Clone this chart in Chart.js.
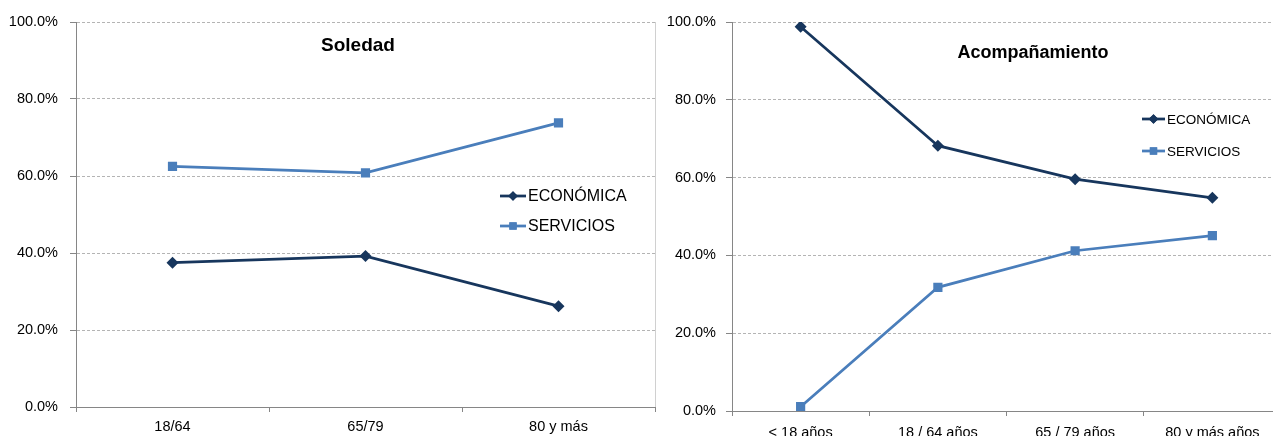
<!DOCTYPE html>
<html lang="es">
<head>
<meta charset="utf-8">
<title>Soledad y Acompañamiento</title>
<script src="https://cdn.jsdelivr.net/npm/chart.js@4.4.1/dist/chart.umd.min.js"></script>
<style>
  html, body { margin: 0; padding: 0; background: #ffffff; overflow: hidden; }
  body { width: 1273px; height: 436px; position: relative; }
  .panel { position: absolute; top: 0; height: 436px; }
  #soledadBox { left: 0; width: 670px; }
  #acompBox { left: 660px; width: 640px; }
</style>
</head>
<body>
<div class="panel" id="soledadBox"><canvas id="soledad" width="670" height="436"></canvas></div>
<div class="panel" id="acompBox"><canvas id="acomp" width="640" height="436"></canvas></div>
<script>
// Series names and values (percent)
const seriesNames = ['ECONÓMICA', 'SERVICIOS'];

const soledadTitle = 'Soledad';
const soledadCategories = ['18/64', '65/79', '80 y más'];
const soledadEconomica = [37.5, 39.2, 26.2];
const soledadServicios = [62.5, 60.8, 73.8];

const acompTitle = 'Acompañamiento';
const acompCategories = ['< 18 años', '18 / 64 años', '65 / 79 años', '80 y más años'];
const acompEconomica = [98.8, 68.2, 59.6, 54.8];
const acompServicios = [1.1, 31.8, 41.2, 45.1];

const FONT = '"Liberation Sans", Arial, Helvetica, sans-serif';
const DARK = '#17365d';
const LIGHT = '#4a7ebb';
const AXIS = '#868686';
const GRID = '#b4b4b4';

// Bold title drawn inside the plot area
const innerTitle = {
  id: 'innerTitle',
  afterDraw(chart, args, opts) {
    const ctx = chart.ctx;
    ctx.save();
    ctx.font = 'bold ' + opts.size + 'px ' + FONT;
    ctx.fillStyle = '#000';
    ctx.textAlign = 'center';
    ctx.textBaseline = 'middle';
    ctx.fillText(opts.text, opts.x, opts.y);
    ctx.restore();
  }
};

// Legend drawn inside the plot area: line segment, marker, label
const innerLegend = {
  id: 'innerLegend',
  afterDraw(chart, args, opts) {
    const ctx = chart.ctx;
    ctx.save();
    chart.data.datasets.forEach((ds, i) => {
      const y = opts.y + i * opts.gap;
      ctx.strokeStyle = ds.borderColor;
      ctx.lineWidth = ds.borderWidth;
      ctx.beginPath();
      ctx.moveTo(opts.x, y);
      ctx.lineTo(opts.x + opts.len, y);
      ctx.stroke();
      ctx.fillStyle = ds.borderColor;
      Chart.helpers.drawPoint(ctx, {
        pointStyle: ds.pointStyle,
        radius: ds.pointRadius * 0.8,
        borderWidth: 0
      }, opts.x + opts.len / 2, y);
      ctx.fill();
      ctx.font = opts.size + 'px ' + FONT;
      ctx.fillStyle = '#000';
      ctx.textAlign = 'left';
      ctx.textBaseline = 'middle';
      ctx.fillText(ds.label, opts.x + opts.len + 2, y + 1);
    });
    ctx.restore();
  }
};

// Light frame line on the right side of the plot area
const rightFrame = {
  id: 'rightFrame',
  afterDraw(chart, args, opts) {
    if (!opts.show) return;
    const a = chart.chartArea;
    const ctx = chart.ctx;
    ctx.save();
    ctx.strokeStyle = '#d0d0d0';
    ctx.lineWidth = 1;
    ctx.beginPath();
    ctx.moveTo(a.right + 0.5, a.top);
    ctx.lineTo(a.right + 0.5, a.bottom);
    ctx.stroke();
    ctx.restore();
  }
};

function makeDatasets(eco, serv) {
  return [
    {
      label: seriesNames[0], data: eco,
      borderColor: DARK, backgroundColor: DARK, borderWidth: 2.75,
      pointStyle: 'rectRot', pointRadius: 6, pointBorderWidth: 0,
      pointBackgroundColor: DARK, tension: 0
    },
    {
      label: seriesNames[1], data: serv,
      borderColor: LIGHT, backgroundColor: LIGHT, borderWidth: 2.75,
      pointStyle: 'rect', pointRadius: 6.5, pointBorderWidth: 0,
      pointBackgroundColor: LIGHT, tension: 0
    }
  ];
}

function makeOptions(cfg) {
  return {
    responsive: false,
    animation: false,
    events: [],
    layout: { padding: { top: 22, right: cfg.padRight, bottom: 0, left: 0 } },
    plugins: {
      legend: { display: false },
      tooltip: { enabled: false },
      title: { display: false },
      innerTitle: cfg.title,
      innerLegend: cfg.legend,
      rightFrame: { show: cfg.frame }
    },
    scales: {
      x: {
        type: 'category',
        offset: true,
        grid: {
          offset: true, drawOnChartArea: false, drawTicks: true,
          tickLength: 5, tickColor: AXIS, tickWidth: 1
        },
        border: { display: true, color: AXIS, width: 1 },
        ticks: {
          color: '#000', padding: cfg.xPad, maxRotation: 0, autoSkip: false,
          font: { family: FONT, size: 14.5 }
        },
        afterFit(s) { s.height = cfg.xHeight; }
      },
      y: {
        min: 0, max: 100,
        ticks: {
          stepSize: 20, color: '#000', padding: cfg.yPad,
          font: { family: FONT, size: 14.5 },
          callback: v => v.toFixed(1) + '%'
        },
        grid: {
          color: GRID, lineWidth: 1,
          drawTicks: true, tickLength: 6, tickColor: AXIS, tickBorderDash: []
        },
        // dash pattern of the horizontal grid lines
        border: { display: true, color: AXIS, width: 1, dash: [3, 2] },
        afterFit(s) { s.width = cfg.yWidth; }
      }
    }
  };
}

new Chart(document.getElementById('soledad'), {
  type: 'line',
  data: { labels: soledadCategories, datasets: makeDatasets(soledadEconomica, soledadServicios) },
  options: makeOptions({
    padRight: 15, xHeight: 29, xPad: 6, yPad: 12, yWidth: 76, frame: true,
    title: { text: soledadTitle, x: 358, y: 46, size: 19 },
    legend: { x: 500, y: 196, gap: 30, len: 26, size: 16 }
  }),
  plugins: [innerTitle, innerLegend, rightFrame]
});

new Chart(document.getElementById('acomp'), {
  type: 'line',
  data: { labels: acompCategories, datasets: makeDatasets(acompEconomica, acompServicios) },
  options: makeOptions({
    padRight: 19, xHeight: 25, xPad: 8, yPad: 10, yWidth: 72, frame: false,
    title: { text: acompTitle, x: 373, y: 53, size: 18 },
    legend: { x: 482, y: 119, gap: 32, len: 23, size: 13.5 }
  }),
  plugins: [innerTitle, innerLegend, rightFrame]
});
</script>
</body>
</html>
